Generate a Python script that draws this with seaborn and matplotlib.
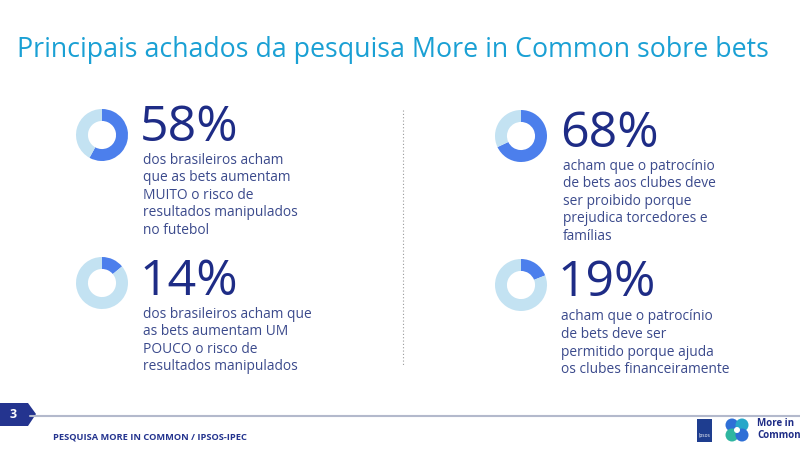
import numpy as np
import matplotlib.pyplot as plt
import matplotlib.patches as mpatches
import seaborn as sns

sns.set_theme(style="white")
plt.rcParams['font.family'] = ['Open Sans', 'DejaVu Sans']

title = "Principais achados da pesquisa More in Common sobre bets"
shares = [58, 14, 68, 19]
labels = ["58%", "14%", "68%", "19%"]
descriptions = [
    ["dos brasileiros acham", "que as bets aumentam", "MUITO o risco de",
     "resultados manipulados", "no futebol"],
    ["dos brasileiros acham que", "as bets aumentam UM", "POUCO o risco de",
     "resultados manipulados"],
    ["acham que o patrocínio", "de bets aos clubes deve", "ser proibido porque",
     "prejudica torcedores e", "famílias"],
    ["acham que o patrocínio", "de bets deve ser", "permitido porque ajuda",
     "os clubes financeiramente"],
]
footer = "PESQUISA MORE IN COMMON / IPSOS-IPEC"
page = "3"

blue = "#4c7fec"
light = "#c3e2f2"
navy = "#1e2c86"
body = "#3b4a8c"
cyan = "#1aa0d4"

W, H = 800, 450
fig = plt.figure(figsize=(8, 4.5), dpi=100)
fig.patch.set_facecolor("white")

# canvas axes in pixel coordinates
bg = fig.add_axes([0, 0, 1, 1])
bg.set_xlim(0, W)
bg.set_ylim(H, 0)
bg.axis("off")

# layout per block: donut center, number pos, first desc line y
donut_c = [(102, 135), (102, 283), (521, 136), (521, 285)]
num_pos = [(140, 141), (140, 295), (560, 147), (558, 296)]
desc_y0 = [160, 314, 166, 317]
r = 26

for i, v in enumerate(shares):
    cx, cy = donut_c[i]
    ax = fig.add_axes([(cx - r) / W, 1 - (cy + r) / H, 2 * r / W, 2 * r / H])
    ax.pie([v, 100 - v], colors=[blue, light], startangle=90, counterclock=False,
           radius=1, wedgeprops=dict(width=0.46, linewidth=0))
    ax.set_xlim(-1, 1)
    ax.set_ylim(-1, 1)
    ax.set_aspect("equal")
    ax.axis("off")

    nx_, ny_ = num_pos[i]
    bg.text(nx_, ny_, labels[i], fontsize=36, color=navy, ha="left", va="baseline")
    for j, line in enumerate(descriptions[i]):
        bg.text(nx_ + 3, desc_y0[i] + j * 17.6, line, fontsize=9.9, color=body,
                ha="left", va="center")

bg.text(17, 50, title, fontsize=19.3, color=cyan, ha="left", va="center")

# dotted divider
bg.plot([403, 403], [110, 365], color="#9a9a9a", lw=0.8, ls=(0, (1, 2)))

# bottom rule and page tab
bg.plot([30, 800], [415.5, 415.5], color="#b3b9cc", lw=1.5)
bg.add_patch(mpatches.Polygon([[0, 403], [28, 403], [36, 414], [28, 426], [0, 426]],
                              closed=True, color="#24348f", lw=0))
bg.text(13, 414.5, page, fontsize=9, color="white", fontweight="bold",
        ha="center", va="center")
bg.text(53, 437, footer, fontsize=6.7, color="#24348f", fontweight="bold",
        ha="left", va="center")

# logos
bg.add_patch(mpatches.Rectangle((697, 419), 15, 23, color="#1e3d8f", lw=0))
bg.text(704.5, 436, "Ipsos", fontsize=3.5, color="white", ha="center", va="center")
for dx, dy, c in [(-5, -5, "#2e6fd6"), (5, -5, "#27a7c9"), (-5, 5, "#2fb6a0"), (5, 5, "#2e6fd6")]:
    bg.add_patch(mpatches.Circle((737 + dx, 430 + dy), 6.5, color=c, lw=0))
bg.add_patch(mpatches.Circle((737, 430), 3, color="white", lw=0))
bg.text(757, 423, "More in", fontsize=7, color="#1e2c86", fontweight="bold", ha="left", va="center")
bg.text(757, 436, "Common", fontsize=7, color="#1e2c86", fontweight="bold", ha="left", va="center")

fig.savefig("out.png", dpi=100, facecolor="white")
